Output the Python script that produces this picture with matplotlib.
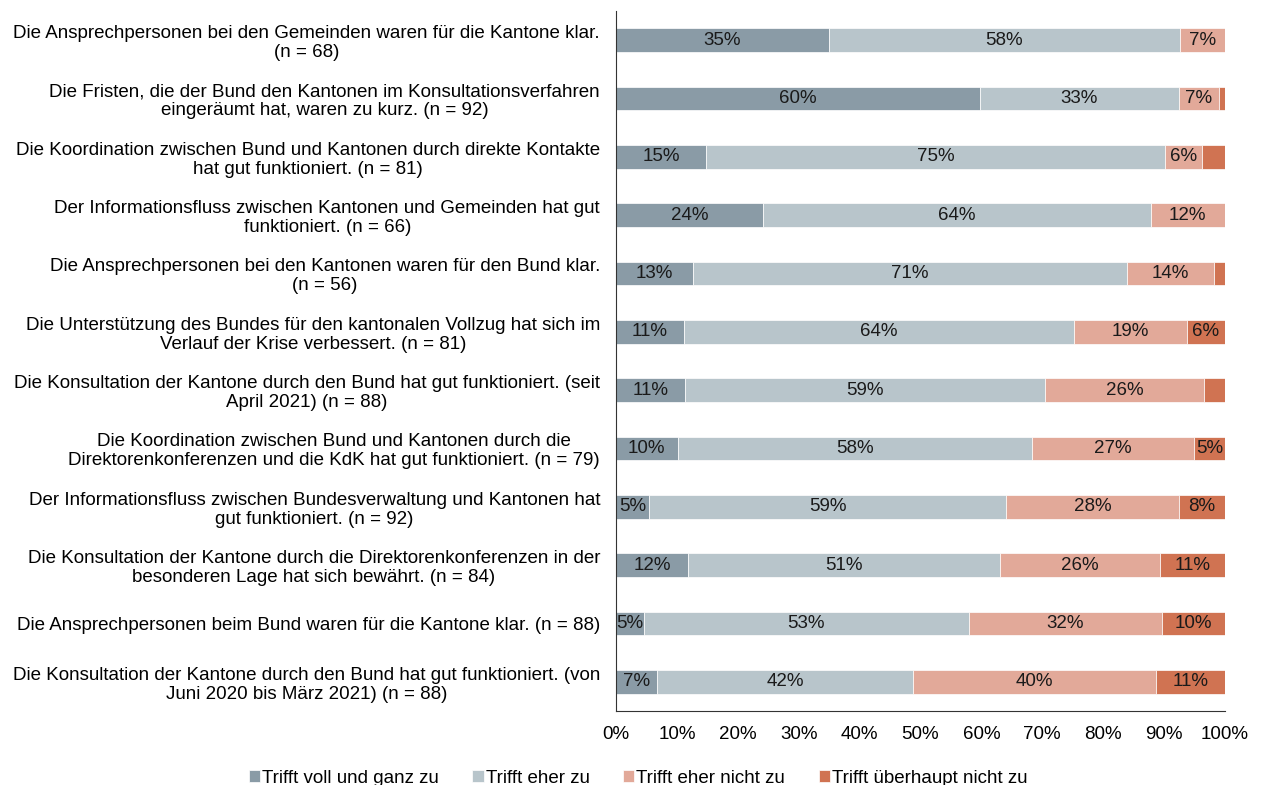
import matplotlib.pyplot as plt
import numpy as np

plt.rcParams['font.family'] = ['Liberation Sans', 'DejaVu Sans']

statements = [
    "Die Ansprechpersonen bei den Gemeinden waren für die Kantone klar.\n(n = 68)",
    "Die Fristen, die der Bund den Kantonen im Konsultationsverfahren\neingeräumt hat, waren zu kurz. (n = 92)",
    "Die Koordination zwischen Bund und Kantonen durch direkte Kontakte\nhat gut funktioniert. (n = 81)",
    "Der Informationsfluss zwischen Kantonen und Gemeinden hat gut\nfunktioniert. (n = 66)",
    "Die Ansprechpersonen bei den Kantonen waren für den Bund klar.\n(n = 56)",
    "Die Unterstützung des Bundes für den kantonalen Vollzug hat sich im\nVerlauf der Krise verbessert. (n = 81)",
    "Die Konsultation der Kantone durch den Bund hat gut funktioniert. (seit\nApril 2021) (n = 88)",
    "Die Koordination zwischen Bund und Kantonen durch die\nDirektorenkonferenzen und die KdK hat gut funktioniert. (n = 79)",
    "Der Informationsfluss zwischen Bundesverwaltung und Kantonen hat\ngut funktioniert. (n = 92)",
    "Die Konsultation der Kantone durch die Direktorenkonferenzen in der\nbesonderen Lage hat sich bewährt. (n = 84)",
    "Die Ansprechpersonen beim Bund waren für die Kantone klar. (n = 88)",
    "Die Konsultation der Kantone durch den Bund hat gut funktioniert. (von\nJuni 2020 bis März 2021) (n = 88)",
]

categories = ["Trifft voll und ganz zu", "Trifft eher zu",
              "Trifft eher nicht zu", "Trifft überhaupt nicht zu"]

voll_zu = [35.0, 59.8, 14.8, 24.2, 12.6, 11.1, 11.4, 10.1, 5.4, 11.9, 4.6, 6.8]
eher_zu = [57.6, 32.6, 75.3, 63.6, 71.3, 64.1, 59.1, 58.2, 58.7, 51.2, 53.3, 42.0]
eher_nicht = [7.4, 6.6, 6.2, 12.2, 14.3, 18.6, 26.1, 26.6, 28.3, 26.2, 31.8, 39.8]
gar_nicht = [0.0, 1.0, 3.7, 0.0, 1.8, 6.2, 3.4, 5.1, 7.6, 10.7, 10.3, 11.4]

colors = ['#8a9ba6', '#b8c5cb', '#e2a999', '#d07352']
fs = 13.5

fig = plt.figure(figsize=(12.61, 7.85), dpi=100)
ax = fig.add_axes([0.4885, 0.0943, 0.4829, 0.8917])

y = np.arange(len(statements))
left = np.zeros(len(statements))
for cat, vals, col in zip(categories, [voll_zu, eher_zu, eher_nicht, gar_nicht], colors):
    vals = np.array(vals)
    ax.barh(y, vals, left=left, height=0.41, color=col, label=cat,
            edgecolor='white', linewidth=0.5)
    for yi, l, v in zip(y, left, vals):
        if v >= 4.5:
            ax.text(l + v / 2, yi, f"{v:.0f}%", ha='center', va='center',
                    fontsize=fs, color='#1a1a1a')
    left += vals

ax.set_xlim(0, 100)
ax.set_ylim(11.5, -0.5)
ax.set_yticks(y)
ax.set_yticklabels(statements, fontsize=fs, multialignment='center', linespacing=1.15)
ax.set_xticks(np.arange(0, 101, 10))
ax.set_xticklabels([f"{t}%" for t in range(0, 101, 10)], fontsize=fs)
ax.tick_params(axis='x', length=0, pad=11)
ax.tick_params(axis='y', length=0, pad=11.5)
for s in ['top', 'right']:
    ax.spines[s].set_visible(False)
ax.spines['left'].set_color('#333333')
ax.spines['bottom'].set_color('#333333')

fig.legend(loc='lower center', bbox_to_anchor=(0.506, -0.024), ncol=4, frameon=False,
           fontsize=fs, handlelength=0.6, handleheight=0.6, handletextpad=0.1,
           columnspacing=1.8)

fig.savefig('out.png', dpi=100)
